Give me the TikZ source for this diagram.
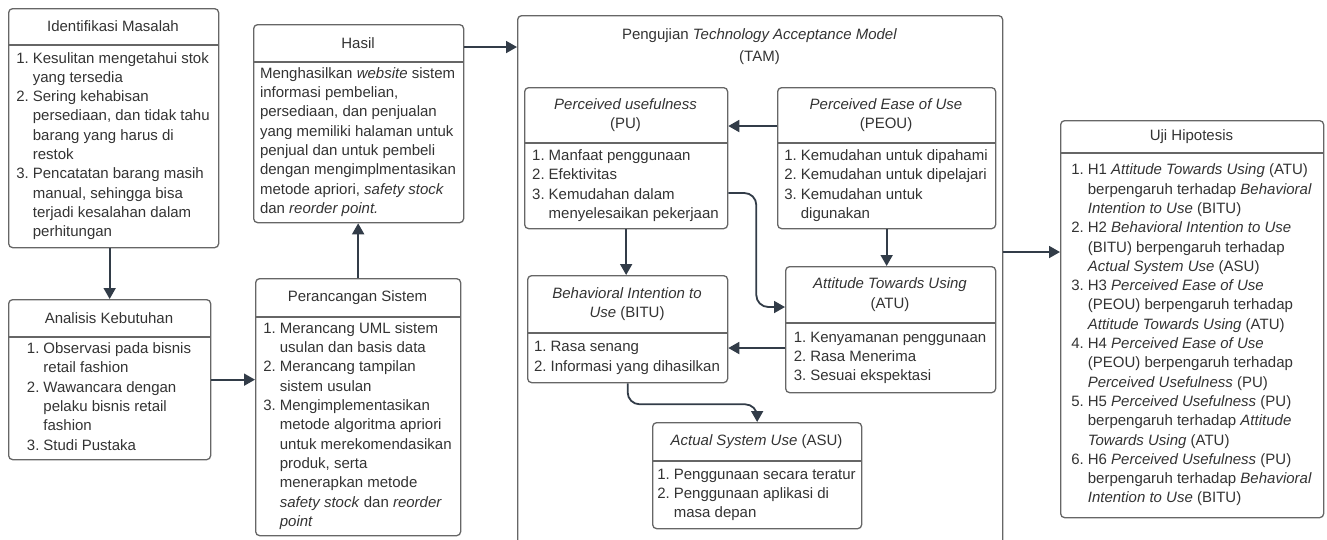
\documentclass[tikz,border=0pt]{standalone}
\usepackage{fontspec}
\setmainfont{Liberation Sans}
\usetikzlibrary{arrows.meta,calc}
\definecolor{linegray}{HTML}{666666}
\definecolor{arrowslate}{HTML}{323C48}
\definecolor{textgray}{HTML}{333333}

% numbered list with hanging indent
\newenvironment{plist}{\begin{tabular}{@{}l@{\hspace{4pt}}l@{}}}{\end{tabular}}

% box with title part and body part
% #1 name, #2 left, #3 top, #4 right, #5 divider, #6 bottom, #7 title, #8 body
\newcommand\umlbox[8]{%
  \node[frame, minimum width={(#4)-(#2)}, minimum height={(#6)-(#3)}, anchor=north west] (#1) at (#2,#3) {};
  \draw[frame] (#2,#5) -- (#4,#5);
  \node[head] (#1-t) at ({((#2)+(#4))/2},{((#3)+(#5))/2}) {#7};
  \node[body] (#1-b) at ({((#2)+(#4))/2},{((#5)+(#6))/2}) {#8};
}

\begin{document}
\begin{tikzpicture}[x=1pt, y=-1pt,
  frame/.style={draw=linegray, line width=1.3pt, rounded corners=4pt, inner sep=0pt},
  head/.style={text=textgray, align=center, inner sep=0pt, font=\fontsize{15}{19.5}\selectfont},
  body/.style={text=textgray, inner sep=0pt, font=\fontsize{15}{19.3}\selectfont},
  arr/.style={draw=arrowslate, line width=1.8pt, -{Triangle[length=11pt,width=12pt]}},
  ]
  \useasboundingbox (0,0) rectangle (1327,539);
  \clip (0,0) rectangle (1327,539);

  % left column
  \umlbox{idm}{8}{8}{218}{45}{247}{Identifikasi Masalah}{%
    \begin{plist}
      1. & Kesulitan mengetahui stok \\
         & yang tersedia \\
      2. & Sering kehabisan \\
         & persediaan, dan tidak tahu \\
         & barang yang harus di \\
         & restok \\
      3. & Pencatatan barang masih \\
         & manual, sehingga bisa \\
         & terjadi kesalahan dalam \\
         & perhitungan
    \end{plist}}
  \umlbox{ana}{8}{299}{210}{337}{459}{Analisis Kebutuhan}{%
    \begin{plist}
      1. & Observasi pada bisnis \\
         & retail fashion \\
      2. & Wawancara dengan \\
         & pelaku bisnis retail \\
         & fashion \\
      3. & Studi Pustaka
    \end{plist}}

  % second column
  \umlbox{hsl}{253}{24}{463}{62}{222}{Hasil}{%
    \begin{tabular}{@{}l@{}}
      Menghasilkan \textit{website} sistem \\
      informasi pembelian, \\
      persediaan, dan penjualan \\
      yang memiliki halaman untuk \\
      penjual dan untuk pembeli \\
      dengan mengimplmentasikan \\
      metode apriori, \textit{safety stock} \\
      dan \textit{reorder point.}
    \end{tabular}}
  \umlbox{per}{255}{278}{460}{317}{535}{Perancangan Sistem}{%
    \begin{plist}
      1. & Merancang UML sistem \\
         & usulan dan basis data \\
      2. & Merancang tampilan \\
         & sistem usulan \\
      3. & Mengimplementasikan \\
         & metode algoritma apriori \\
         & untuk merekomendasikan \\
         & produk, serta \\
         & menerapkan metode \\
         & \textit{safety stock} dan \textit{reorder} \\
         & \textit{point}
    \end{plist}}

  % TAM
  \node[frame, minimum width=485pt, minimum height=560pt, anchor=north west] (tam) at (517,15) {};
  \node[head, font=\fontsize{15}{22}\selectfont] (tam-t) at (759.5,47)
    {Pengujian \textit{Technology Acceptance Model}\\(TAM)};
  \umlbox{pu}{524}{87}{727}{143}{228}{\textit{Perceived usefulness}\\(PU)}{%
    \begin{plist}
      1. & Manfaat penggunaan \\
      2. & Efektivitas \\
      3. & Kemudahan dalam \\
         & menyelesaikan pekerjaan
    \end{plist}}
  \umlbox{peou}{777}{87}{995}{143}{228}{\textit{Perceived Ease of Use}\\(PEOU)}{%
    \begin{plist}
      1. & Kemudahan untuk dipahami \\
      2. & Kemudahan untuk dipelajari \\
      3. & Kemudahan untuk \\
         & digunakan
    \end{plist}}
  \umlbox{bitu}{527}{275}{727}{333}{382}{\textit{Behavioral Intention to}\\\textit{Use} (BITU)}{%
    \begin{plist}
      1. & Rasa senang \\
      2. & Informasi yang dihasilkan
    \end{plist}}
  \umlbox{atu}{785}{266}{995}{323}{392}{\textit{Attitude Towards Using}\\(ATU)}{%
    \begin{plist}
      1. & Kenyamanan penggunaan \\
      2. & Rasa Menerima \\
      3. & Sesuai ekspektasi
    \end{plist}}
  \umlbox{asu}{652}{422}{861}{461}{528}{\textit{Actual System Use} (ASU)}{%
    \begin{plist}
      1. & Penggunaan secara teratur \\
      2. & Penggunaan aplikasi di \\
         & masa depan
    \end{plist}}

  % right column
  \umlbox{uji}{1060}{120}{1323}{153}{517}{Uji Hipotesis}{%
    \begin{plist}
      1. & H1 \textit{Attitude Towards Using} (ATU) \\
         & berpengaruh terhadap \textit{Behavioral} \\
         & \textit{Intention to Use} (BITU) \\
      2. & H2 \textit{Behavioral Intention to Use} \\
         & (BITU) berpengaruh terhadap \\
         & \textit{Actual System Use} (ASU) \\
      3. & H3 \textit{Perceived Ease of Use} \\
         & (PEOU) berpengaruh terhadap \\
         & \textit{Attitude Towards Using} (ATU) \\
      4. & H4 \textit{Perceived Ease of Use} \\
         & (PEOU) berpengaruh terhadap \\
         & \textit{Perceived Usefulness} (PU) \\
      5. & H5 \textit{Perceived Usefulness} (PU) \\
         & berpengaruh terhadap \textit{Attitude} \\
         & \textit{Towards Using} (ATU) \\
      6. & H6 \textit{Perceived Usefulness} (PU) \\
         & berpengaruh terhadap \textit{Behavioral} \\
         & \textit{Intention to Use} (BITU)
    \end{plist}}

  % connectors
  \draw[arr] (ana.north |- idm.south) -- (ana.north);
  \draw[arr] (ana.east) -- (ana.east -| per.west);
  \draw[arr] (per.north) -- (per.north |- hsl.south);
  \draw[arr] ([yshift=-23pt]hsl.north east) -- ([yshift=-23pt]hsl.north east -| tam.west);
  \draw[arr] ([yshift=-39pt]peou.north west) -- ([yshift=-39pt]peou.north west -| pu.east);
  \draw[arr] (pu.south) -- (pu.south |- bitu.north);
  \draw[arr] (peou.south) -- (peou.south |- atu.north);
  \draw[arr, rounded corners=12pt] ([yshift=-106pt]pu.north east) -- ++(28,0) |- ([yshift=-41pt]atu.north west);
  \draw[arr] ([yshift=-82pt]atu.north west) -- ([yshift=-82pt]atu.north west -| bitu.east);
  \draw[arr, rounded corners=12pt] (bitu.south) -- ++(0,21) -| (asu.north);
  \draw[arr] ([yshift=-237pt]tam.north east) -- ([yshift=-237pt]tam.north east -| uji.west);
\end{tikzpicture}
\end{document}
